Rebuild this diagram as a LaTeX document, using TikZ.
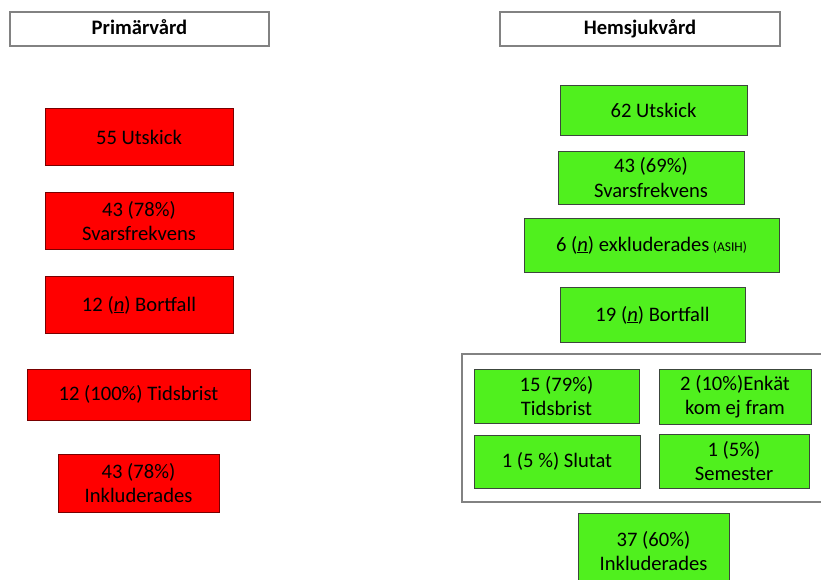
\documentclass[tikz,border=0pt]{standalone}
\usepackage{fontspec}
\setmainfont{Carlito}
\definecolor{redfill}{RGB}{255,0,0}
\definecolor{redline}{RGB}{120,0,0}
\definecolor{greenfill}{RGB}{80,240,30}
\definecolor{greenline}{RGB}{60,70,60}
\definecolor{grayline}{RGB}{130,130,130}
\tikzset{
  base/.style={rectangle, inner sep=0pt, align=center, font=\fontsize{20.6}{24.5}\selectfont, text=black},
  headbox/.style={base, draw=grayline, line width=1.2pt, fill=white, font=\fontsize{20.6}{24.5}\selectfont\bfseries, text height=15pt, text depth=3pt},
  redbox/.style={base, draw=redline, line width=0.8pt, fill=redfill},
  greenbox/.style={base, draw=greenline, line width=0.8pt, fill=greenfill},
  groupbox/.style={rectangle, draw=grayline, line width=1.2pt},
}
\newcommand{\nn}{(\underline{\textit{n}})}
\begin{document}
\begin{tikzpicture}[x=1pt,y=-1pt]
\useasboundingbox (0,0) rectangle (821,580);
% headers
\node[headbox, minimum width=259pt, minimum height=34pt] (h1) at (139.5,29) {Primärvård};
\node[headbox, minimum width=280pt, minimum height=34pt] (h2) at (640,29) {Hemsjukvård};
% left column
\node[redbox, minimum width=188pt, minimum height=57pt] (l1) at (139,137) {55 Utskick};
\node[redbox, minimum width=188pt, minimum height=57pt] (l2) at (139,221) {43 (78\%)\\Svarsfrekvens};
\node[redbox, minimum width=188pt, minimum height=57pt] (l3) at (139,305) {12 \nn{} Bortfall};
\node[redbox, minimum width=223pt, minimum height=51pt] (l4) at (138.5,394.5) {12 (100\%) Tidsbrist};
\node[redbox, minimum width=161pt, minimum height=58pt] (l5) at (138.5,483) {43 (78\%)\\Inkluderades};
% right column
\node[greenbox, minimum width=187pt, minimum height=50pt] (r1) at (653.5,110) {62 Utskick};
\node[greenbox, minimum width=186pt, minimum height=53pt] (r2) at (651,177.5) {43 (69\%)\\Svarsfrekvens};
\node[greenbox, minimum width=255pt, minimum height=54pt] (r3) at (651.5,245) {6 \nn{} exkluderades\,{\fontsize{13.5}{14}\selectfont(ASIH)}};
\node[greenbox, minimum width=185pt, minimum height=55pt] (r4) at (652.5,315) {19 \nn{} Bortfall};
% group box
\node[groupbox, minimum width=362pt, minimum height=148pt] (grp) at (643,428) {};
\node[greenbox, minimum width=165pt, minimum height=54pt] (g1) at (556.5,396) {15 (79\%)\\Tidsbrist};
\node[greenbox, minimum width=152pt, minimum height=55pt] (g2) at (735,396.5) {2 (10\%)Enkät\\kom ej fram};
\node[greenbox, minimum width=166pt, minimum height=53pt] (g3) at (557,461.5) {1 (5 \%) Slutat};
\node[greenbox, minimum width=150pt, minimum height=54pt] (g4) at (734,461) {1 (5\%)\\Semester};
% bottom
\node[greenbox, minimum width=151pt, minimum height=76pt] (r5) at (653.5,551) {37 (60\%)\\Inkluderades};
\end{tikzpicture}
\end{document}
